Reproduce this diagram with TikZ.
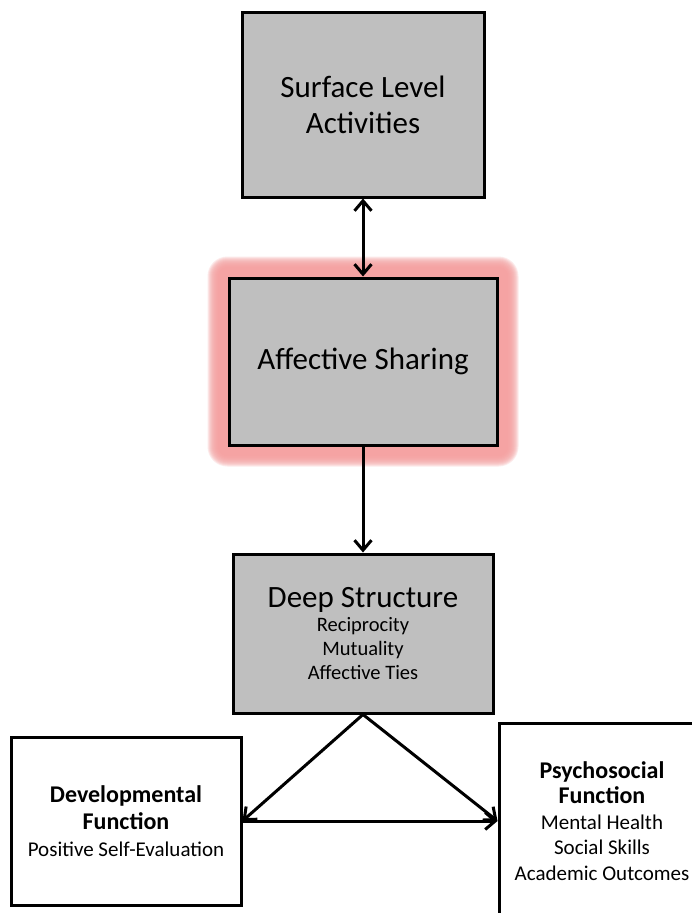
\documentclass[tikz,border=0pt]{standalone}
\usepackage{fontspec}
\setmainfont{Carlito}
\usepackage{xcolor}
\usepackage{tikz}
\usetikzlibrary{arrows.meta,calc,backgrounds,positioning}

\definecolor{boxgray}{RGB}{191,191,191}
\definecolor{glowred}{RGB}{245,160,160}
\newcommand{\headbf}{\bfseries\fontsize{24}{27}\selectfont}

\begin{document}
\begin{tikzpicture}[
			x=1pt, y=-1pt,
			graybox/.style={draw, line width=3pt, fill=boxgray, inner sep=0pt, align=center},
			whitebox/.style={draw, line width=3pt, fill=white, inner sep=0pt, align=center},
			link/.style={line width=3pt, -{Straight Barb[length=10pt,width=17pt]}},
			bothlink/.style={line width=3pt, {Straight Barb[length=10pt,width=17pt]}-{Straight Barb[length=10pt,width=17pt]}}
			]
			\useasboundingbox (0,0) rectangle (692,913);
			% Boxes
			\node[graybox, minimum width=242pt, minimum height=185pt, font=\fontsize{31}{36}\selectfont] (surface) at (363,104.5) {Surface Level\\Activities};
			\node[graybox, minimum width=268pt, minimum height=167pt, font=\fontsize{31}{36}\selectfont] (affective) at (363,361.5) {Affective Sharing};
			\node[graybox, minimum width=260pt, minimum height=159pt, font=\fontsize{20.5}{24}\selectfont] (deep) at (363,633.5) {{\fontsize{31}{33}\selectfont Deep Structure}\\Reciprocity\\Mutuality\\Affective Ties};
			\node[whitebox, minimum width=230pt, minimum height=168pt, font=\fontsize{21}{27}\selectfont] (devel) at (126,821) {{\headbf Developmental}\\{\headbf Function}\\Positive Self-Evaluation};
			\node[whitebox, minimum width=206pt, minimum height=196pt, font=\fontsize{21}{25.5}\selectfont] (psycho) at (602,821) {{\headbf Psychosocial}\\{\headbf Function}\\Mental Health\\Social Skills\\Academic Outcomes};
			% Glow round the middle box
			\begin{scope}[on background layer]
				\fill[white] (0,0) rectangle (692,913);
				\foreach \g in {20,...,9}
					\fill[glowred, fill opacity=0.22, rounded corners=\g pt] ($(affective.south west)+(-\g,\g)$) rectangle ($(affective.north east)+(\g,-\g)$);
			\end{scope}
			% Arrows
			\draw[bothlink] (surface.south) -- (affective.north);
			\draw[link] (affective.south) -- (deep.north);
			\draw[link] (deep.south) -- (devel.east);
			\draw[link] (deep.south) -- (psycho.west);
			\draw[link] (devel.east) -- (psycho.west);
		\end{tikzpicture}
\end{document}
